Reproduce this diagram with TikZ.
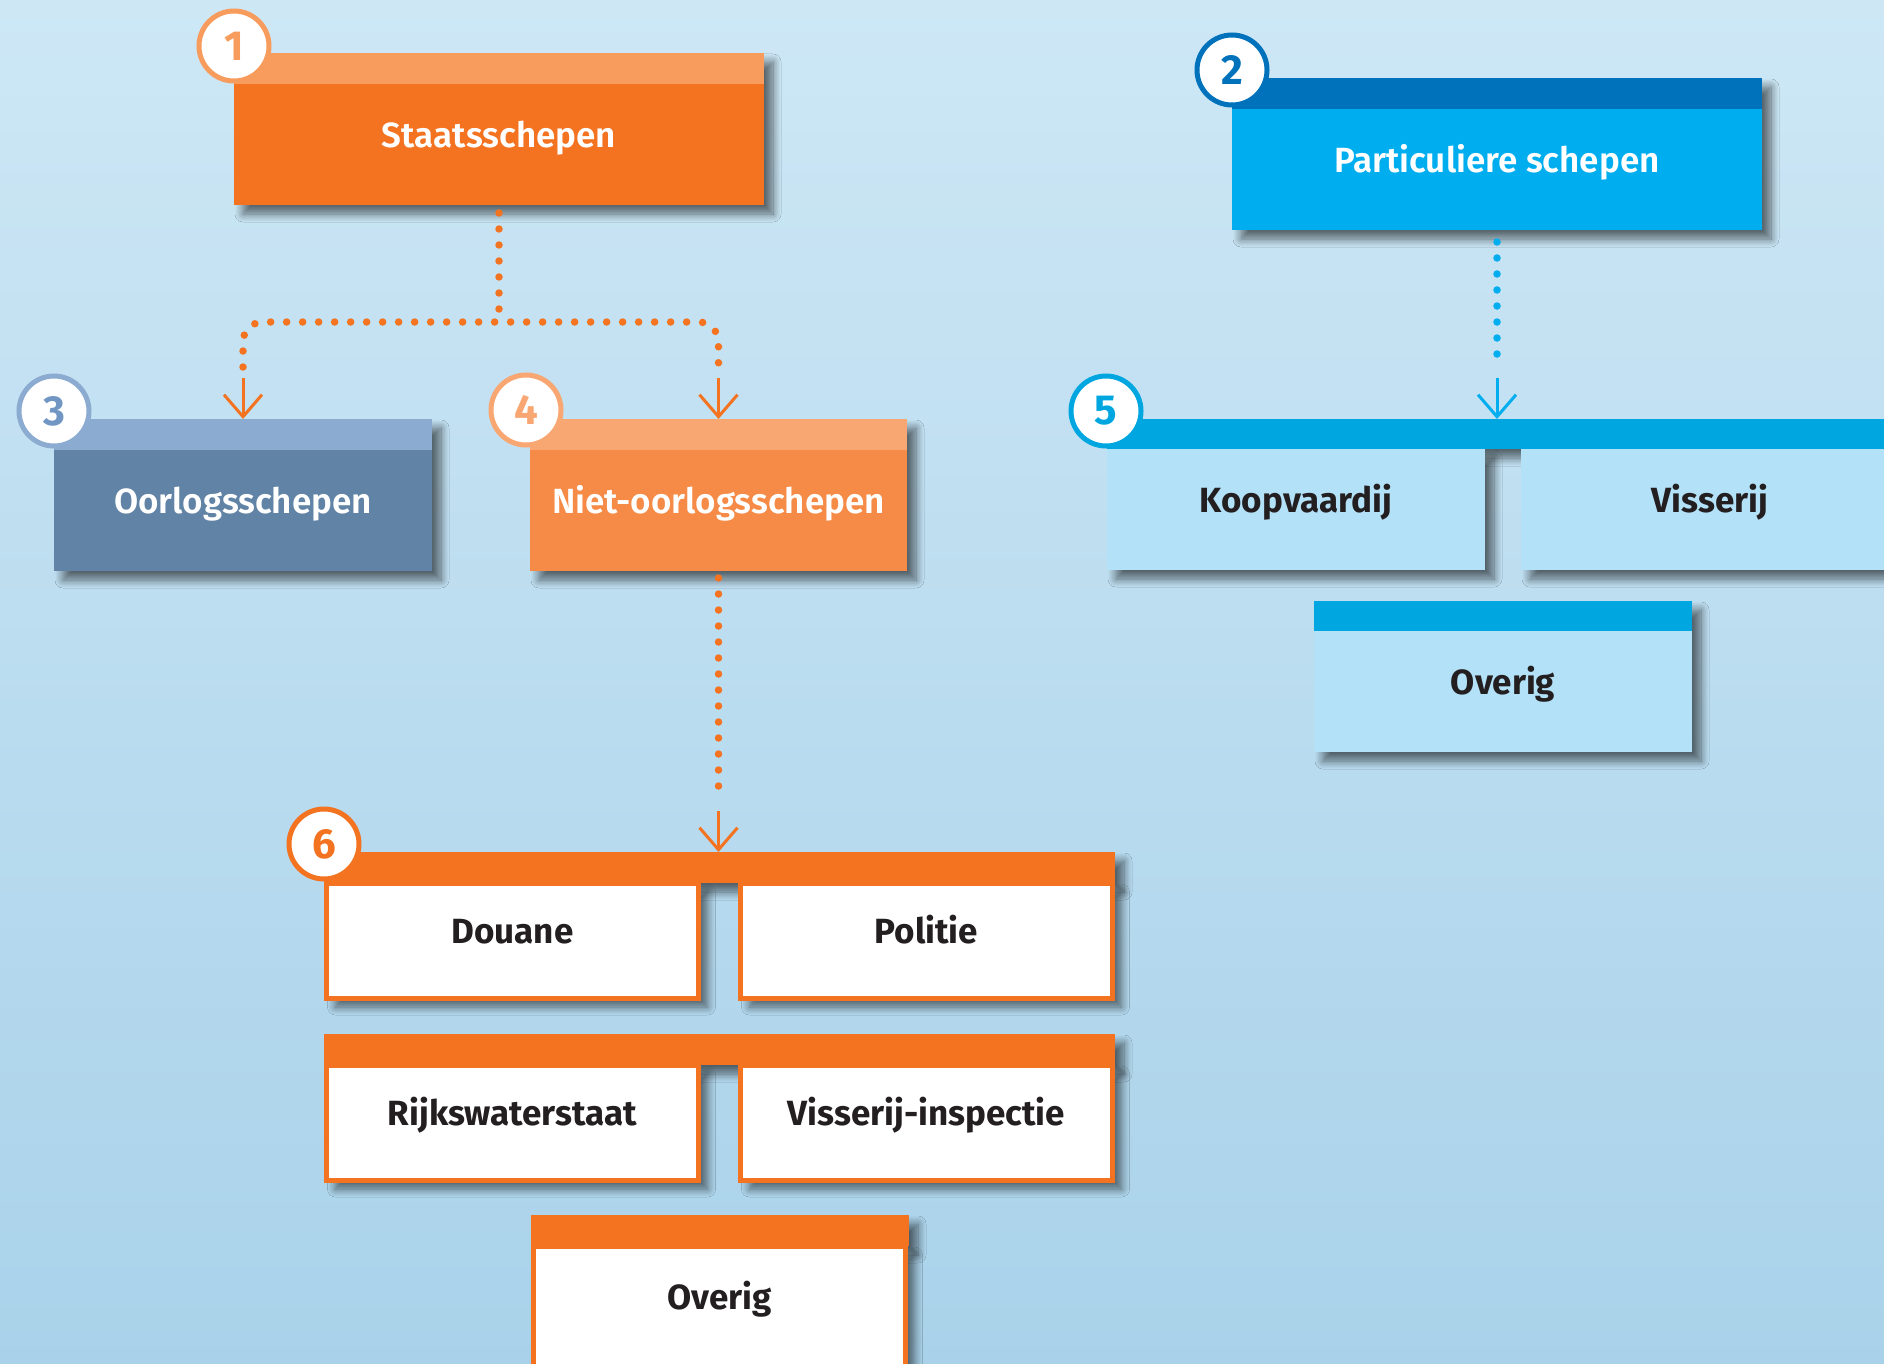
\documentclass[tikz,border=0pt]{standalone}
\usepackage{fontspec}
\setmainfont{Fira Sans}
\IfFontExistsTF{Fira Sans SemiBold}{\newfontfamily\boxfont{Fira Sans SemiBold}}{\newfontfamily\boxfont{Fira Sans}[UprightFont=*-Bold]}
\usetikzlibrary{arrows.meta,shadows.blur,calc}
\definecolor{bgTop}{HTML}{CDE7F5}
\definecolor{bgBot}{HTML}{A9D2EA}
\definecolor{orMain}{HTML}{F37321}
\definecolor{orBand}{HTML}{F79C5C}
\definecolor{orFourMain}{HTML}{F68B47}
\definecolor{orFourBand}{HTML}{F8A672}
\definecolor{blMain}{HTML}{00AEEF}
\definecolor{blDark}{HTML}{0072BC}
\definecolor{grMain}{HTML}{6183A6}
\definecolor{grBand}{HTML}{8CABD0}
\definecolor{grNum}{HTML}{7196C4}
\definecolor{blFive}{HTML}{00A6E0}
\definecolor{blFiveFill}{HTML}{B3E1F7}
\definecolor{txtDark}{HTML}{231F20}
\tikzset{
  shd/.style={blur shadow={shadow xshift=9pt, shadow yshift=-9pt, shadow blur radius=8pt, shadow opacity=55, shadow blur steps=10}},
  framebox/.style={rectangle, inner sep=0pt, outer sep=0pt, anchor=north west, minimum height=152pt, shd},
  bandbox/.style={rectangle, inner sep=0pt, outer sep=0pt, anchor=north west, minimum height=31pt, shd},
  bodybox/.style={rectangle, inner sep=0pt, outer sep=0pt, minimum height=121pt,
     text height=24pt, text depth=18pt, font=\fontsize{35}{40}\selectfont\boxfont},
  whitebox/.style={bodybox, anchor=north west, fill=white, draw=orMain, line width=5pt,
     minimum width=372pt, minimum height=115pt, text=txtDark, font=\fontsize{35}{40}\selectfont\bfseries, shd},
  lightbox/.style={bodybox, anchor=north west, fill=blFiveFill, minimum width=378pt, text=txtDark, font=\fontsize{35}{40}\selectfont\bfseries, shd},
  numc/.style={circle, fill=white, draw=#1, line width=5pt, minimum size=70pt, inner sep=0pt,
     font=\fontsize{42}{42}\selectfont\bfseries},
  dotor/.style={draw=orMain, line width=7.5pt, line cap=round, dash pattern=on 0pt off 16pt},
  dotbl/.style={draw=blMain, line width=7.5pt, line cap=round, dash pattern=on 0pt off 16pt},
  arrowor/.style={draw=orMain, line width=3pt, -{Straight Barb[length=22pt, width=38pt]}},
  arrowbl/.style={draw=blMain, line width=3pt, -{Straight Barb[length=22pt, width=38pt]}},
}
\begin{document}
\begin{tikzpicture}[x=1pt, y=-1pt]
\useasboundingbox (0,0) rectangle (1884,1364);
\clip (0,0) rectangle (1884,1364);
\shade[top color=bgTop, bottom color=bgBot] (0,0) rectangle (1884,1364);

% Box 1
\node[framebox, fill=orBand, minimum width=530pt] (f1) at (234,53) {};
\node[bodybox, fill=orMain, text=white, minimum width=530pt, anchor=north] (b1) at ([yshift=-31pt]f1.north) {Staatsschepen};
% Box 2
\node[framebox, fill=blDark, minimum width=530pt] (f2) at (1232,78) {};
\node[bodybox, fill=blMain, text=white, minimum width=530pt, anchor=north] (b2) at ([yshift=-31pt]f2.north) {Particuliere schepen};
% Box 3
\node[framebox, fill=grBand, minimum width=378pt] (f3) at (54,419) {};
\node[bodybox, fill=grMain, text=white, minimum width=378pt, anchor=north] (b3) at ([yshift=-31pt]f3.north) {Oorlogsschepen};
% Box 4
\node[framebox, fill=orFourBand, minimum width=377pt] (f4) at (530,419) {};
\node[bodybox, fill=orFourMain, text=white, minimum width=377pt, anchor=north] (b4) at ([yshift=-31pt]f4.north) {Niet-oorlogsschepen};

% Group 5
\node[bandbox, fill=blFive, minimum width=792pt, minimum height=30pt] (g5) at (1107,419) {};
\node[lightbox] (b5a) at (1107,449) {Koopvaardij};
\node[lightbox] (b5b) at (1521,449) {Visserij};
\node[framebox, fill=blFive, minimum width=378pt, minimum height=151pt] (f5c) at (1314,601) {};
\node[bodybox, fill=blFiveFill, text=txtDark, minimum width=378pt, anchor=north, font=\fontsize{35}{40}\selectfont\bfseries] (b5c) at ([yshift=-30pt]f5c.north) {Overig};

% Group 6
\node[bandbox, fill=orMain, minimum width=791pt] (g6) at (324,852) {};
\node[whitebox] (b6a) at (326.5,883) {Douane};
\node[whitebox] (b6b) at (740.5,883) {Politie};
\node[bandbox, fill=orMain, minimum width=791pt] (g6r) at (324,1034) {};
\node[whitebox] (b6c) at (326.5,1065) {Rijkswaterstaat};
\node[whitebox] (b6d) at (740.5,1065) {Visserij-inspectie};
\node[bandbox, fill=orMain, minimum width=378pt] (g6e) at (531,1215) {};
\node[whitebox, minimum height=120pt] (b6e) at (533.5,1246) {Overig};

% Connectors
\path (b1.south) ++(0,117) coordinate (j);
\draw[dotor] ([yshift=-8pt]b1.south) -- (j);
\draw[dotor, rounded corners=20pt] ([yshift=52pt]f3.north) -- (f3.north |- j) -- (f4.north |- j) -- ([yshift=52pt]f4.north);
\draw[arrowor] ([yshift=41pt]f3.north) -- (f3.north);
\draw[arrowor] ([yshift=41pt]f4.north) -- (f4.north);

\coordinate (t6) at (b4.south |- g6.north);
\draw[dotor] ([yshift=-7pt]b4.south) -- ([yshift=52pt]t6);
\draw[arrowor] ([yshift=41pt]t6) -- (t6);

\coordinate (t5) at (b2.south |- g5.north);
\draw[dotbl] ([yshift=-12pt]b2.south) -- ([yshift=50pt]t5);
\draw[arrowbl] ([yshift=41pt]t5) -- (t5);

% Number circles
\node[numc=orBand, text=orBand] (c1) at (234,46) {1};
\node[numc=blDark, text=blDark] (c2) at (1232,70) {2};
\node[numc=grBand, text=grNum] (c3) at (54,411) {3};
\node[numc=orFourBand, text=orFourBand] (c4) at (526,410) {4};
\node[numc=blFive, text=blFive] (c5) at (1106,411) {5};
\node[numc=orMain, text=orMain] (c6) at (324,844) {6};
\end{tikzpicture}
\end{document}
